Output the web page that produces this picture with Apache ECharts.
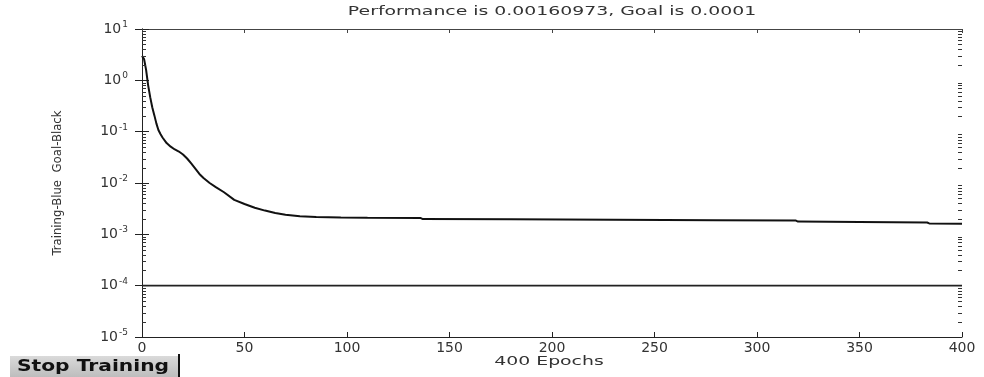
<!DOCTYPE html>
<html>
<head>
<meta charset="utf-8">
<script src="https://cdn.jsdelivr.net/npm/echarts@6/dist/echarts.min.js"></script>
<style>
  html, body { margin: 0; padding: 0; background: #fff; }
  #main { width: 984px; height: 377px; }
</style>
</head>
<body>
<div id="main"></div>
<script>
// 训练曲线数据
var epochs = [0, 1, 2, 3, 4, 5, 6, 7, 8, 9, 10, 12, 14, 16, 18, 20, 22, 24, 26, 28, 30, 33, 36, 40, 45, 50, 55, 60, 65, 70, 77, 85, 97, 110, 136, 137, 180, 230, 280, 319, 320, 350, 383, 384, 400];
var perf = [3.0, 2.6, 1.6, 0.8, 0.47, 0.3, 0.21, 0.145, 0.108, 0.09, 0.077, 0.06, 0.051, 0.045, 0.041, 0.036, 0.03, 0.024, 0.019, 0.015, 0.0125, 0.01, 0.0083, 0.0066, 0.0047, 0.0039, 0.0033, 0.0029, 0.0026, 0.0024, 0.00224, 0.00218, 0.00213, 0.0021, 0.00207, 0.00198, 0.00196, 0.00193, 0.00188, 0.00185, 0.00177, 0.00174, 0.0017, 0.00163, 0.00161];
var goal = 0.0001;
var titleText = 'Performance is 0.00160973, Goal is 0.0001';
var xName = '400 Epochs';
var yName = 'Training-Blue  Goal-Black';

// log轴的小刻度 2..9 x 10^k, 左边(x=0)和右边(x=400)
var minorVals = [];
for (var k = -5; k < 1; k++) {
  for (var m = 2; m <= 9; m++) {
    minorVals.push([0, m * Math.pow(10, k)]);
    minorVals.push([400, m * Math.pow(10, k)]);
  }
}

var chart = echarts.init(document.getElementById('main'));
var fontW = 'DejaVu Sans';

var option = {
  animation: false,
  grid: { left: 142, right: 22, top: 29, bottom: 40 },
  xAxis: [
    {
      type: 'value', min: 0, max: 400, interval: 50,
      axisLine: { lineStyle: { color: '#222', width: 1 } },
      axisTick: { inside: true, length: 5, lineStyle: { color: '#222' } },
      axisLabel: { color: '#333', fontSize: 14, fontFamily: fontW, margin: 4 },
      splitLine: { show: false }
    },
    {
      type: 'value', min: 0, max: 400, interval: 50, position: 'top',
      axisLine: { show: true, lineStyle: { color: '#444', width: 1 } },
      axisTick: { inside: true, length: 4, lineStyle: { color: '#444' } },
      axisLabel: { show: false },
      splitLine: { show: false }
    }
  ],
  yAxis: [
    {
      type: 'log', logBase: 10, min: 1e-5, max: 10,
      name: yName, nameLocation: 'middle', nameGap: 78, nameRotate: 90,
      nameTextStyle: { color: '#333', fontSize: 13, fontFamily: "'DejaVu Sans Condensed', 'Liberation Sans Narrow', 'Liberation Sans', sans-serif" },
      axisLine: { show: true, lineStyle: { color: '#222', width: 1 } },
      axisTick: { inside: true, length: 7, lineStyle: { color: '#222' } },
      splitLine: { show: false },
      axisLabel: {
        margin: 14,
        formatter: function (v) {
          var e = Math.round(Math.log(v) / Math.LN10);
          return '{b|10}{s|' + e + '}';
        },
        rich: {
          b: { fontSize: 14, fontFamily: fontW, color: '#333' },
          s: { fontSize: 9, fontFamily: fontW, color: '#333', padding: [0, 0, 9, 1] }
        }
      }
    },
    {
      type: 'log', logBase: 10, min: 1e-5, max: 10, position: 'right',
      axisLine: { show: true, lineStyle: { color: '#222', width: 1 } },
      axisTick: { inside: true, length: 7, lineStyle: { color: '#222' } },
      axisLabel: { show: false },
      splitLine: { show: false }
    }
  ],
  series: [
    {
      // 小刻度
      type: 'custom',
      silent: true,
      clip: false,
      xAxisIndex: 0,
      yAxisIndex: 0,
      data: minorVals,
      encode: { x: 0, y: 1 },
      renderItem: function (params, api) {
        var p = api.coord([api.value(0), api.value(1)]);
        var dir = api.value(0) < 200 ? 1 : -1;
        var y = Math.round(p[1]) + 0.5;
        return {
          type: 'line',
          shape: { x1: p[0], y1: y, x2: p[0] + dir * 4, y2: y },
          style: { stroke: '#333', lineWidth: 1 }
        };
      },
      z: 5
    },
    {
      name: 'Training',
      type: 'line',
      data: epochs.map(function (e, i) { return [e, perf[i]]; }),
      showSymbol: false,
      lineStyle: { color: '#111', width: 2 },
      z: 3
    },
    {
      name: 'Goal',
      type: 'line',
      data: [[0, goal], [400, goal]],
      showSymbol: false,
      lineStyle: { color: '#222', width: 1.6 },
      z: 3
    }
  ],
  graphic: [
    {
      type: 'text', x: 552, y: 12, scaleX: 1.45,
      style: { text: titleText, fontSize: 13, fontFamily: fontW, fill: '#333', align: 'center', verticalAlign: 'middle' }
    },
    {
      type: 'text', x: 549, y: 362, scaleX: 1.45,
      style: { text: xName, fontSize: 13, fontFamily: fontW, fill: '#333', align: 'center', verticalAlign: 'middle' }
    },
    {
      // Stop Training 按钮
      type: 'group',
      children: [
        {
          type: 'rect', shape: { x: 10, y: 356, width: 168, height: 21 },
          style: {
            fill: new echarts.graphic.LinearGradient(0, 0, 0, 1, [
              { offset: 0, color: '#dadada' }, { offset: 1, color: '#bdbdbd' }
            ])
          }
        },
        { type: 'rect', shape: { x: 178, y: 354, width: 2, height: 23 }, style: { fill: '#111' } },
        {
          type: 'text', x: 93, y: 367, scaleX: 1.35,
          style: { text: 'Stop Training', fontSize: 15, fontWeight: 'bold', fontFamily: fontW, fill: '#111', align: 'center', verticalAlign: 'middle' }
        }
      ]
    }
  ]
};

chart.setOption(option);
</script>
</body>
</html>
